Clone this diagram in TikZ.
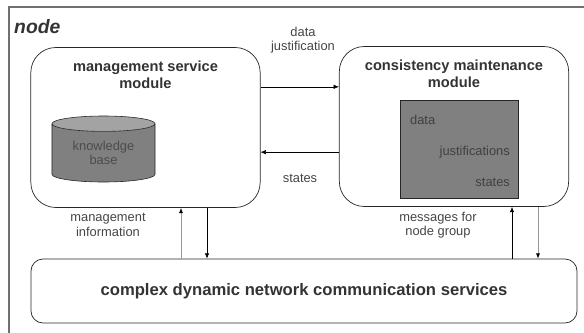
\documentclass[tikz,border=0pt]{standalone}
\usepackage{fontspec}
\setmainfont{Liberation Sans}
\usepackage{xcolor}
\usetikzlibrary{positioning,shapes.geometric,arrows.meta}
\definecolor{txtdark}{HTML}{333333}
\definecolor{txtmid}{HTML}{454545}
\definecolor{boxgray}{HTML}{808080}
\definecolor{topgray}{HTML}{A3A3A3}
\definecolor{framegray}{HTML}{707070}
\begin{document}
\begin{tikzpicture}[x=0.3mm, y=-0.3mm,
% common options for the modules:
module/.style = {draw=black!85, rounded corners=7.5mm, line width=0.6pt,
            minimum width=68.8mm, minimum height=48mm, inner sep=0},
% common options for the titles and labels:
title/.style = {align=center, text=txtdark, font=\fontsize{12.5}{14.5}\selectfont\bfseries},
lbl/.style = {align=center, text=txtmid, font=\fontsize{11}{12.2}\selectfont},
% common options for the arrows:
arr/.style = {draw=black, line width=0.5pt, -{Latex[length=1.6mm,width=1.3mm,black]}},
garr/.style = {arr, draw=black!40, line width=0.8pt}]
\useasboundingbox (0,0) rectangle (584,333);

% frame of the node
\draw[framegray, line width=1.1pt] (590,7) -- (9,7) -- (9,340);
\node[anchor=west, inner sep=0, text=txtdark,
      font=\fontsize{16.5}{18}\selectfont\bfseries\itshape] (N0) at (14,27) {node};

% management service module
\node[module] (msm) at (145.5,127.5) {};
\node[title, below=2.8mm of msm.north] (msmT) {management service\\module};
\node[cylinder, shape border rotate=90, draw=black!85, line width=0.5pt,
      aspect=0.25, minimum width=30.9mm, minimum height=19.8mm, inner sep=0,
      cylinder uses custom fill, cylinder body fill=boxgray, cylinder end fill=topgray,
      lbl, text=black!70] (kb) at (103.5,153) {knowledge\\base};

% consistency maintenance module
\node[module] (cmm) at (454,126.5) {};
\node[title, below=2.8mm of cmm.north] (cmmT) {consistency maintenance\\module};
\node[draw=black!85, fill=boxgray, line width=0.6pt, minimum width=35.4mm,
      minimum height=29.4mm, inner sep=0] (st) at (459,149) {};
\node[lbl, text=black!75, anchor=west] (st1) at (406,120) {data};
\node[lbl, text=black!75, anchor=east] (st2) at (514,152) {justifications};
\node[lbl, text=black!75, anchor=east] (st3) at (514,182) {states};

% communication services
\node[draw=black!85, rounded corners=3.6mm, line width=0.6pt, minimum width=163.8mm,
      minimum height=19.2mm, title, font=\fontsize{14.2}{16}\selectfont\bfseries] (cs) at (304,291)
      {complex dynamic network communication services};

% labels
\node[lbl] (L1) at (303,40) {data\\justification};
\node[lbl] (L2) at (300,178) {states};
\node[lbl] (L3) at (108,225) {management\\information};
\node[lbl] (L4) at (438,225) {messages for\\node group};

% arrows between the modules
\draw[arr] ([yshift=12.2mm]msm.east) -- ([yshift=12.2mm]msm.east -| cmm.west);
\draw[arr] ([yshift=-7.7mm]cmm.west) -- ([yshift=-7.7mm]cmm.west -| msm.east);
% arrows to and from the services
\draw[garr] ([xshift=10.65mm]msm.south |- cs.north) -- ([xshift=10.65mm]msm.south);
\draw[arr] ([xshift=18.45mm]msm.south) -- ([xshift=18.45mm]msm.south |- cs.north);
\draw[arr] ([xshift=17.4mm]cmm.south |- cs.north) -- ([xshift=17.4mm]cmm.south);
\draw[garr] ([xshift=25.2mm]cmm.south) -- ([xshift=25.2mm]cmm.south |- cs.north);
\end{tikzpicture}
\end{document}
